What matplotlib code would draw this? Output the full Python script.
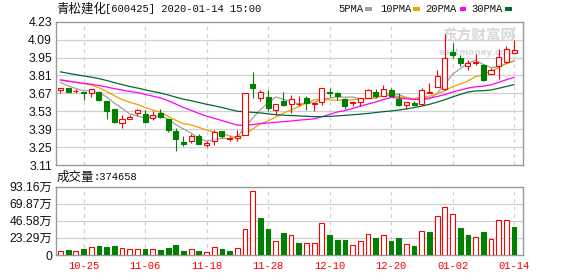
import matplotlib
matplotlib.use('Agg')
import matplotlib.pyplot as plt
import numpy as np
from matplotlib.patches import Rectangle

# ---------------- data ----------------
stock_name = '青松建化'
stock_info = '[600425] 2020-01-14 15:00'
tick_pos = [3, 11, 19, 27, 35, 43, 51, 59]
tick_labels = ['10-25', '11-06', '11-18', '11-28', '12-10', '12-20', '01-02', '01-14']
price_ticks = [3.11, 3.25, 3.39, 3.53, 3.67, 3.81, 3.95, 4.09, 4.23]
vol_ticks = [0, 23.29, 46.58, 69.87, 93.16]
vol_tick_labels = ['0', '23.29万', '46.58万', '69.87万', '93.16万']
ma_periods = [5, 10, 20, 30]
ma_names = ['5PMA', '10PMA', '20PMA', '30PMA']
ma_colors = ['#a0a0a0', '#f0a000', '#ff00ff', '#006a33']

# closes of the 29 sessions before the window (needed for the moving averages)
prior_close = [4.02, 4.00, 3.98, 3.99, 3.96, 3.97, 3.94, 3.94,
               3.92, 3.90, 3.88, 3.87, 3.85, 3.84, 3.83,
               3.75, 3.70, 3.69, 3.70, 3.71,
               3.74, 3.77, 3.77,
               3.81, 3.84,
               3.81, 3.79, 3.76, 3.70]

opens = [3.700, 3.715, 3.688, 3.679, 3.674, 3.681, 3.607, 3.545, 3.440, 3.470,
         3.520, 3.506, 3.478, 3.514, 3.473, 3.378, 3.293, 3.295, 3.334, 3.265,
         3.295, 3.373, 3.310, 3.320, 3.342, 3.746, 3.633, 3.643, 3.540, 3.610,
         3.590, 3.585, 3.630, 3.588, 3.605, 3.679, 3.671, 3.628, 3.597, 3.602,
         3.636, 3.679, 3.653, 3.700, 3.628, 3.576, 3.597, 3.589, 3.675, 3.717,
         3.705, 3.990, 3.944, 3.885, 3.908, 3.893, 3.823, 3.880, 3.918, 3.988]
highs = [3.712, 3.715, 3.705, 3.682, 3.707, 3.685, 3.607, 3.545, 3.499, 3.504,
         3.550, 3.540, 3.532, 3.545, 3.473, 3.396, 3.340, 3.350, 3.352, 3.298,
         3.383, 3.373, 3.334, 3.383, 3.674, 3.838, 3.697, 3.700, 3.584, 3.679,
         3.660, 3.648, 3.648, 3.595, 3.713, 3.713, 3.679, 3.635, 3.605, 3.636,
         3.705, 3.705, 3.738, 3.713, 3.674, 3.602, 3.607, 3.710, 3.750, 3.854,
         4.137, 4.060, 3.970, 3.930, 3.975, 3.900, 3.867, 4.020, 4.040, 4.090]
lows = [3.674, 3.679, 3.671, 3.617, 3.640, 3.612, 3.468, 3.440, 3.401, 3.468,
        3.494, 3.440, 3.460, 3.480, 3.370, 3.216, 3.257, 3.280, 3.275, 3.247,
        3.267, 3.320, 3.298, 3.298, 3.342, 3.635, 3.610, 3.532, 3.500, 3.575,
        3.515, 3.571, 3.540, 3.532, 3.580, 3.640, 3.617, 3.545, 3.571, 3.571,
        3.636, 3.636, 3.653, 3.648, 3.575, 3.545, 3.571, 3.580, 3.669, 3.717,
        3.695, 3.944, 3.880, 3.854, 3.893, 3.770, 3.823, 3.785, 3.910, 3.988]
closes = [3.712, 3.679, 3.690, 3.671, 3.705, 3.617, 3.530, 3.445, 3.468, 3.488,
          3.537, 3.445, 3.499, 3.488, 3.380, 3.314, 3.273, 3.337, 3.278, 3.280,
          3.370, 3.334, 3.320, 3.334, 3.674, 3.715, 3.681, 3.556, 3.584, 3.580,
          3.628, 3.590, 3.592, 3.595, 3.713, 3.671, 3.648, 3.571, 3.605, 3.636,
          3.700, 3.653, 3.705, 3.653, 3.580, 3.602, 3.576, 3.694, 3.680, 3.808,
          3.944, 3.970, 3.910, 3.905, 3.915, 3.777, 3.849, 3.952, 4.020, 4.008]
# volume in 万 (10k shares)
volume = [5.4, 6.7, 5.4, 8.0, 10.3, 12.0, 10.8, 12.0, 9.0, 8.0,
          8.0, 8.0, 8.0, 6.7, 9.4, 13.4, 5.4, 7.6, 5.4, 3.6,
          10.3, 8.0, 5.4, 9.4, 35.8, 87.5, 50.6, 35.0, 19.7, 29.6,
          27.8, 17.0, 17.0, 17.0, 43.9, 26.9, 20.2, 20.2, 13.0, 18.4,
          29.1, 22.8, 27.8, 18.8, 22.8, 14.3, 12.1, 33.2, 30.9, 53.3,
          65.4, 56.0, 36.3, 26.9, 25.1, 30.9, 21.5, 47.9, 47.9, 37.4658]

# ---------------- figure ----------------
RED = '#ff0000'
GREEN = '#008000'
GRID = '#d0d0d0'
SPINE = '#999999'
W, H = 578, 276

fig = plt.figure(figsize=(W / 100, H / 100), dpi=100)
fig.patch.set_facecolor('white')


def fx(px):
    return px / W


def fy(py):
    return 1 - py / H


ax = fig.add_axes([fx(55.5), fy(165), fx(522.5) - fx(55.5), fy(21.7) - fy(165)])
axv = fig.add_axes([fx(55.5), fy(255), fx(522.5) - fx(55.5), fy(186.5) - fy(255)])

n = len(closes)
x = np.arange(n)
o = np.array(opens)
h = np.array(highs)
l = np.array(lows)
c = np.array(closes)
allc = np.array(prior_close + closes)
np_ = len(prior_close)

for a in (ax, axv):
    a.set_xlim(-0.65, n + 0.1)
    for s in a.spines.values():
        s.set_color(SPINE)
        s.set_linewidth(1.0)
    a.tick_params(length=0)
    for t in tick_pos:
        a.axvline(t, color=GRID, lw=0.9, ls=(0, (3, 3)), zorder=1)

# main price panel
ax.set_ylim(price_ticks[0], price_ticks[-1])
ax.set_yticks(price_ticks)
ax.set_yticklabels([f'{v:.2f}' for v in price_ticks], family=['Liberation Sans', 'DejaVu Sans'],
                   fontsize=8.8, color='#111111')
ax.tick_params(axis='y', pad=2.5)
ax.set_xticks([])
for v in price_ticks[1:-1]:
    ax.axhline(v, color=GRID, lw=0.9, zorder=1)

# watermark
ax.text(0.985, 0.955, '东方财富网', transform=ax.transAxes, ha='right', va='top',
        family=['Noto Sans CJK SC'], fontweight='bold', fontsize=10.5, color='#d8d8d8', zorder=0.5)
ax.text(0.985, 0.815, 'eastmoney.com', transform=ax.transAxes, ha='right', va='top',
        family=['DejaVu Sans'], fontweight='bold', fontsize=6.3, color='#d8d8d8', zorder=0.5)

# moving averages
for p, col in zip(ma_periods, ma_colors):
    ma = np.array([allc[np_ + i - p + 1: np_ + i + 1].mean() for i in range(n)])
    ax.plot(x, ma, color=col, lw=0.9, zorder=3)

bw = 0.66
for i in range(n):
    up = c[i] >= o[i]
    col = RED if up else GREEN
    ax.vlines(i, l[i], h[i], color=col, lw=0.8, zorder=4)
    bot = min(o[i], c[i])
    ht = max(abs(c[i] - o[i]), 0.0015)
    ax.add_patch(Rectangle((i - bw / 2, bot), bw, ht, facecolor='white' if up else GREEN,
                           edgecolor=col, lw=0.8, zorder=5))

# volume panel
axv.set_ylim(0, vol_ticks[-1])
axv.set_yticks(vol_ticks)
axv.set_yticklabels(vol_tick_labels, family=['Liberation Sans', 'Noto Sans CJK SC'],
                    fontsize=8.8, color='#111111')
axv.tick_params(axis='y', pad=2.5)
for v in vol_ticks[1:-1]:
    axv.axhline(v, color=GRID, lw=0.9, zorder=1)
prev = np.concatenate([[prior_close[-1]], c[:-1]])
for i in range(n):
    up = c[i] >= prev[i]
    col = RED if up else GREEN
    axv.bar(i, volume[i], width=0.62, facecolor='white' if up else GREEN,
            edgecolor=col, lw=0.8, zorder=4)
axv.set_xticks(tick_pos)
axv.set_xticklabels(tick_labels, family=['Liberation Mono', 'DejaVu Sans Mono'],
                    fontsize=7.6, color=RED)
axv.tick_params(axis='x', pad=4.5)

# header texts
fig.text(fx(56), fy(9), stock_name, family=['Noto Sans CJK SC'], fontsize=9.0,
         va='center', ha='left', color='#111111')
fig.text(fx(105), fy(9), stock_info, family=['Liberation Mono', 'DejaVu Sans Mono'], fontsize=7.6,
         va='center', ha='left', color='#111111')

leg_x = [338, 380, 425, 471.5]
sq_x = [365, 413, 459.5, 505]
for name, col, tx, sx in zip(ma_names, ma_colors, leg_x, sq_x):
    fig.text(fx(tx), fy(9), name, family=['Liberation Mono', 'DejaVu Sans Mono'], fontsize=7.6,
             va='center', ha='left', color='#111111')
    fig.add_artist(Rectangle((fx(sx), fy(10.5)), fx(6.5), fy(7) - fy(10.5),
                             transform=fig.transFigure, facecolor=col, edgecolor='none'))

fig.text(fx(57), fy(177.5), '成交量', family=['Noto Sans CJK SC'], fontsize=9.0,
         va='center', ha='left', color='#111111')
fig.text(fx(94), fy(177.5), ':' + f'{volume[-1] * 10000:.0f}', family=['Liberation Mono', 'DejaVu Sans Mono'],
         fontsize=7.6, va='center', ha='left', color='#111111')

fig.savefig('out.png', dpi=100, facecolor='white')
